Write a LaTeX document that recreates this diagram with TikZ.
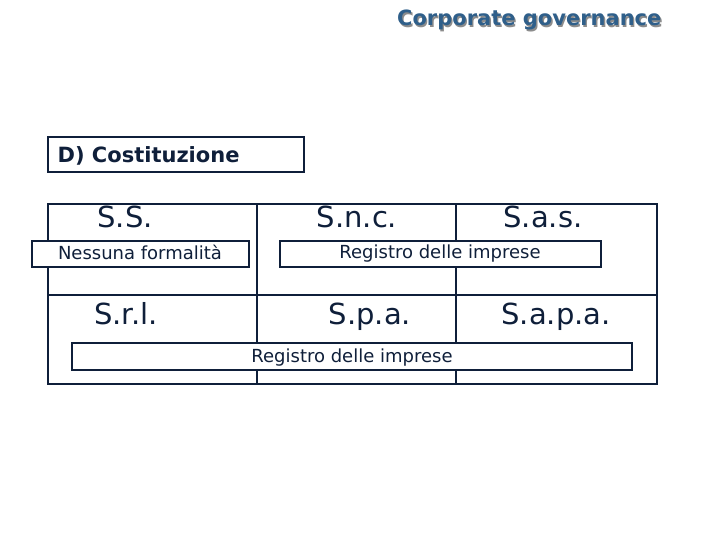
\documentclass[tikz,border=0pt]{standalone}
\usepackage{fontspec}
\setmainfont{DejaVu Sans}
\definecolor{titleblue}{HTML}{2F5F8A}
\definecolor{inkblue}{HTML}{0F1F3A}
\begin{document}
\begin{tikzpicture}[x=0.5pt,y=-0.5pt,line width=0.6pt,draw=inkblue,text=inkblue,
  every node/.style={inner sep=0pt},
  sigla/.style={anchor=base,font=\fontsize{14.5}{16}\selectfont},
  nota/.style={anchor=base,font=\fontsize{9}{10}\selectfont}]
                \useasboundingbox (0,0) rectangle (720,540);
                \draw (662,26) node[anchor=base east,text=black!45,font=\bfseries\fontsize{10.5}{12}\selectfont,xshift=0.7pt,yshift=-0.7pt] (ombra) {Corporate governance} ;
                \draw (662,26) node[anchor=base east,text=titleblue,font=\bfseries\fontsize{10.5}{12}\selectfont] (titolo) {Corporate governance} ;
                \draw (48,137) rectangle (304,172) ;
                \draw (57,163) node[anchor=base west,font=\bfseries\fontsize{10.5}{12}\selectfont] (fase) {D) Costituzione} ;
                \draw (48,204) rectangle (657,384) ;
                \draw (48,295) -- (657,295) ;
                \draw (257,204) -- (257,384) ;
                \draw (456,204) -- (456,384) ;
                \draw (125,228) node[sigla] (ss) {S.S.} ;
                \draw (357,228) node[sigla] (snc) {S.n.c.} ;
                \draw (543,228) node[sigla] (sas) {S.a.s.} ;
                \draw (126,325) node[sigla] (srl) {S.r.l.} ;
                \draw (370,325) node[sigla] (spa) {S.p.a.} ;
                \draw (556,325) node[sigla] (sapa) {S.a.p.a.} ;
                \draw [fill=white] (32,241) rectangle (249,267) ;
                \draw (140,260) node[nota] (nessuna) {Nessuna formalità} ;
                \draw [fill=white] (280,241) rectangle (601,267) ;
                \draw (440,259) node[nota] (registro) {Registro delle imprese} ;
                \draw [fill=white] (72,343) rectangle (632,370) ;
                \draw (352,363) node[nota] (registrob) {Registro delle imprese} ;
            \end{tikzpicture}
\end{document}
